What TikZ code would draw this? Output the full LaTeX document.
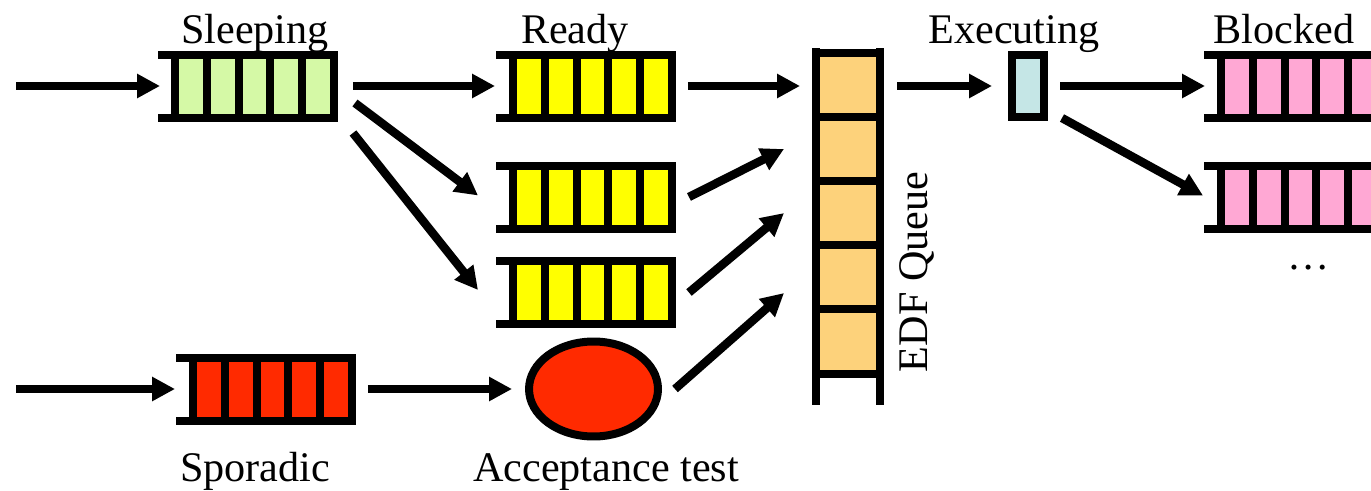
\documentclass[tikz,border=0pt]{standalone}
\usepackage{fontspec}
\setmainfont{Liberation Serif}
\usetikzlibrary{arrows.meta,calc,shapes.geometric}

\definecolor{sleepgreen}{HTML}{D5F9A6}
\definecolor{readyyellow}{HTML}{FFFF00}
\definecolor{edforange}{HTML}{FDD27B}
\definecolor{execcyan}{HTML}{C5E6E6}
\definecolor{blockpink}{HTML}{FFA8D4}
\definecolor{sporred}{HTML}{FF2A00}

\tikzset{
  qnode/.style={draw=none, inner sep=0pt, outer sep=0pt,
    minimum width=3.6cm, minimum height=1.42cm},
  qbar/.style={line width=0.16cm},
  arr/.style={line width=0.17cm, -{Triangle[length=13pt,width=13pt]}},
  lbl/.style={font=\fontsize{24}{28}\selectfont, anchor=base, inner sep=0pt},
}

%% horizontal queue: name, centre, fill colour
\newcommand{\hqueue}[3]{%
  \node[qnode] (#1) at (#2) {};
  \begin{scope}[shift={(#1.north west)}]
    \fill[#3] (17,4) rectangle (176,67);
    \foreach \i in {0,...,5}
      \draw[qbar] ({17+31.8*\i},4) -- ({17+31.8*\i},67);
    \draw[qbar] (0,4) -- (180,4) (0,67) -- (180,67);
  \end{scope}}

\begin{document}
\begin{tikzpicture}[x=0.02cm, y=-0.02cm]
\useasboundingbox (0,0) rectangle (1371,490);
\clip (0,0) rectangle (1371,490);

%% Queues
\hqueue{sleep}{248,86}{sleepgreen}
\hqueue{ready1}{586,86}{readyyellow}
\hqueue{ready2}{586,197}{readyyellow}
\hqueue{ready3}{586,292.5}{readyyellow}
\hqueue{spor}{266,389}{sporred}
\hqueue{block1}{1294,86}{blockpink}
\hqueue{block2}{1294,197}{blockpink}

%% EDF queue (vertical, open at the bottom)
\node[draw=none, inner sep=0pt, outer sep=0pt, minimum width=1.44cm,
  minimum height=7.14cm] (edf) at (848,226.5) {};
\begin{scope}[shift={(edf.north west)}]
  \fill[edforange] (4,4.5) rectangle (68,325.5);
  \foreach \j in {0,...,5}
    \draw[qbar] (4,{4.5+64.2*\j}) -- (68,{4.5+64.2*\j});
  \draw[qbar] (4,0) -- (4,357) (68,0) -- (68,357);
\end{scope}

\node[draw, line width=0.16cm, fill=execcyan, inner sep=0pt,
  minimum width=0.64cm, minimum height=1.26cm] (exec) at (1028,86) {};
\node[ellipse, draw, line width=0.16cm, fill=sporred, inner sep=0pt,
  minimum width=2.58cm, minimum height=1.9cm] (accept) at (593.5,389) {};

%% Labels
\node[lbl] (sleeplbl) at (255,43) {Sleeping};
\node[lbl] (readylbl) at (575,43) {Ready};
\node[lbl] (execlbl) at (1014,43) {Executing};
\node[lbl] (blocklbl) at (1284,43) {Blocked};
\node[lbl] (sporlbl) at (255,481) {Sporadic};
\node[lbl] (acceptlbl) at (606,481) {Acceptance test};
\node[lbl, rotate=90] (edflbl) at (927,272) {EDF Queue};
\node[lbl] (dots) at (1309,269) {\dots};

%% Arrows
\coordinate (in1) at (16,86);
\coordinate (in2) at (16,389);
\draw[arr] (in1) -- ($(sleep.west)+(2,0)$);
\draw[arr] ($(sleep.east)+(15,0)$) -- ($(ready1.west)+(-1,0)$);
\draw[arr] ($(sleep.east)+(17,17)$) -- ($(ready2.west)+(-18,-1.5)$);
\draw[arr] ($(sleep.east)+(15,47)$) -- ($(ready3.west)+(-18,-2.5)$);
\draw[arr] ($(ready1.east)+(12,0)$) -- ($(ready1.east -| edf.west)+(-12,0)$);
\draw[arr] ($(ready2.east)+(13,0)$) -- ($(edf.north west)+(-28,101)$);
\draw[arr] ($(ready3.east)+(13,0)$) -- ($(edf.north west)+(-28,165)$);
\draw[arr] ($(accept.east)+(13,0)$) -- ($(edf.north west)+(-28,245)$);
\draw[arr] (in2) -- ($(spor.west)+(-1,0)$);
\draw[arr] ($(spor.east)+(12,0)$) -- ($(accept.west)+(-13,0)$);
\draw[arr] ($(edf.east |- exec.west)+(13,0)$) -- ($(exec.west)+(-16,0)$);
\draw[arr] ($(exec.east)+(12,0)$) -- ($(block1.west)+(1,0)$);
\draw[arr] ($(exec.east)+(14,32)$) -- ($(block2.west)+(-1,-1.5)$);

\end{tikzpicture}
\end{document}
